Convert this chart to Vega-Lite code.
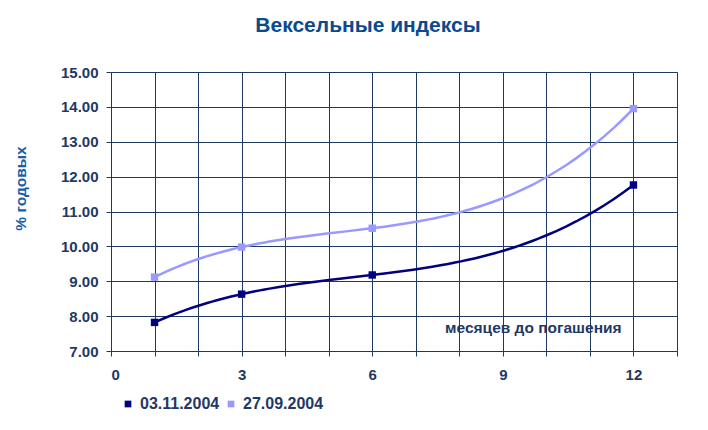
{
  "$schema": "https://vega.github.io/schema/vega-lite/v6.json",
  "width": 566,
  "height": 279,
  "autosize": {"type": "none"},
  "padding": {"left": 111, "top": 72, "right": 31, "bottom": 79},
  "background": "white",
  "title": {
    "text": "Вексельные индексы",
    "font": "Liberation Sans",
    "fontSize": 21,
    "fontWeight": "bold",
    "color": "#0b4a8e",
    "anchor": "middle",
    "dx": -26,
    "offset": 29
  },
  "config": {
    "view": {"stroke": "#7f93b0", "strokeWidth": 1},
    "font": "Liberation Sans"
  },
  "data": {
    "values": [
      {"m": 1, "v": 7.82, "d": "03.11.2004"},
      {"m": 3, "v": 8.63, "d": "03.11.2004"},
      {"m": 6, "v": 9.18, "d": "03.11.2004"},
      {"m": 12, "v": 11.76, "d": "03.11.2004"},
      {"m": 1, "v": 9.12, "d": "27.09.2004"},
      {"m": 3, "v": 9.98, "d": "27.09.2004"},
      {"m": 6, "v": 10.52, "d": "27.09.2004"},
      {"m": 12, "v": 13.95, "d": "27.09.2004"}
    ]
  },
  "encoding": {
    "x": {
      "field": "m",
      "type": "quantitative",
      "scale": {"domain": [0, 13], "nice": false, "zero": false},
      "axis": {
        "values": [0, 1, 2, 3, 4, 5, 6, 7, 8, 9, 10, 11, 12, 13],
        "labelExpr": "datum.value % 3 === 0 ? datum.label : ''",
        "title": null,
        "grid": true,
        "gridColor": "#1f3a60",
        "gridOpacity": 1,
        "domainColor": "#1f3a60",
        "tickColor": "#1f3a60",
        "tickSize": 5,
        "labelPadding": 11,
        "labelFontSize": 15,
        "labelFontWeight": "bold",
        "labelColor": "#1f3864"
      }
    },
    "y": {
      "field": "v",
      "type": "quantitative",
      "scale": {"domain": [7, 15], "nice": false, "zero": false},
      "axis": {
        "values": [7, 8, 9, 10, 11, 12, 13, 14, 15],
        "format": ".2f",
        "title": "% годовых",
        "titleFontSize": 15.5,
        "titleFontWeight": "bold",
        "titleColor": "#1560a8",
        "titleX": -91,
        "titleY": 116,
        "titleBaseline": "middle",
        "titleAlign": "center",
        "grid": true,
        "gridColor": "#1f3a60",
        "gridOpacity": 1,
        "domainColor": "#1f3a60",
        "tickColor": "#1f3a60",
        "tickSize": 5,
        "labelPadding": 8,
        "labelFontSize": 15,
        "labelFontWeight": "bold",
        "labelColor": "#1f3864"
      }
    },
    "color": {
      "field": "d",
      "type": "nominal",
      "scale": {"domain": ["03.11.2004", "27.09.2004"], "range": ["#000080", "#9999ff"]},
      "legend": {
        "orient": "none",
        "legendX": 9,
        "legendY": 324,
        "direction": "horizontal",
        "title": null,
        "symbolType": "square",
        "symbolSize": 45,
        "symbolStrokeWidth": 0,
        "labelFontSize": 16,
        "labelFontWeight": "bold",
        "labelColor": "#1f3864",
        "columnPadding": 3,
        "labelOffset": 4
      }
    }
  },
  "layer": [
    {
      "transform": [
        {"regression": "v", "on": "m", "groupby": ["d"], "method": "poly", "order": 3, "extent": [1, 12]}
      ],
      "mark": {"type": "line", "strokeWidth": 2.5}
    },
    {
      "mark": {"type": "point", "shape": "square", "filled": true, "size": 55, "opacity": 1}
    },
    {
      "data": {"values": [{"m": 9.7, "v": 7.66, "t": "месяцев до погашения"}]},
      "mark": {"type": "text", "fontSize": 15.5, "fontWeight": "bold"},
      "encoding": {
        "text": {"field": "t"},
        "color": {"value": "#1f3864"}
      }
    }
  ]
}
